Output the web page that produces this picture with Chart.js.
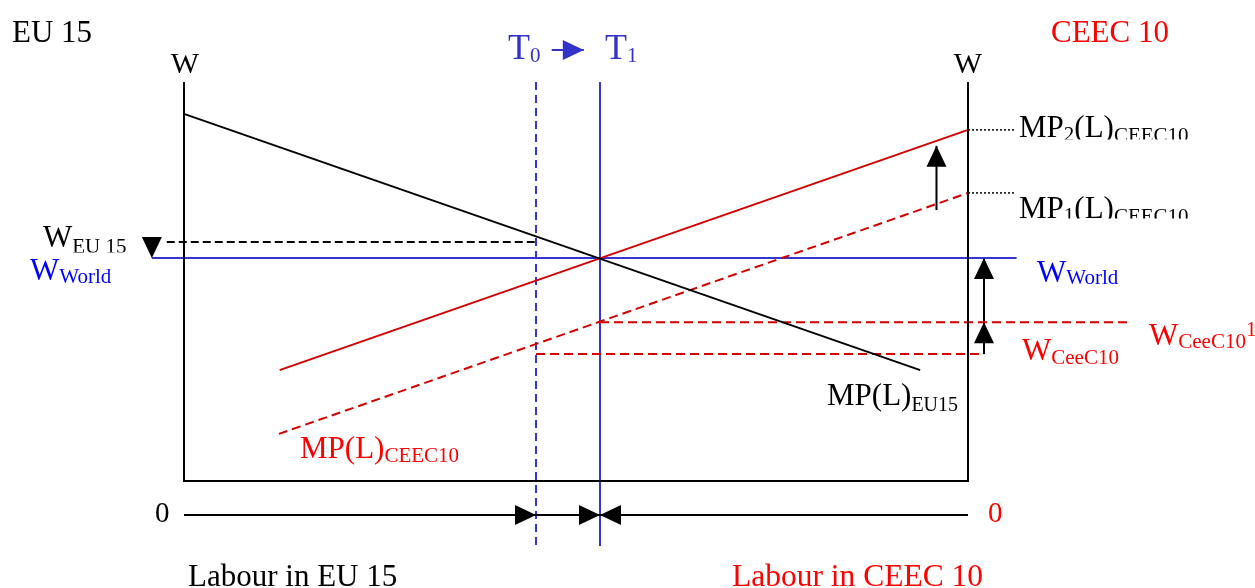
<!DOCTYPE html>
<html>
<head>
<meta charset="utf-8">
<script src="https://cdn.jsdelivr.net/npm/chart.js@4.4.1/dist/chart.umd.min.js"></script>
<style>
html,body{margin:0;padding:0;background:#fff;}
#wrap{width:1255px;height:588px;position:relative;}
</style>
</head>
<body>
<div id="wrap"><canvas id="c" width="1255" height="588"></canvas></div>
<script>
// ---- data (labour share 0..100 across the box, wage 0..100 up the box) ----
const mpEU15   = [{x:0, y:92.0}, {x:93.9, y:27.8}];     // MP(L) EU15
const mp2CEEC  = [{x:12.2, y:27.8}, {x:100, y:88.0}];   // MP2(L) CEEC10
const mp1CEEC  = [{x:12.1, y:11.8}, {x:100, y:72.2}];   // MP1(L) CEEC10
const wageLevels = {world:55.9, eu15:59.9, ceec1:39.8, ceec0:31.8};
const labourSplit = {t0:44.9, t1:53.06};
const wageSpan = {worldFrom:-4.1, worldTo:106.2, eu15From:-2.2, ceec1To:120.7, ceec0To:102.04};
const vertSpan = [100, -16.3];      // T0/T1 vertical extent
const labourAxisY = -8.5;
const mpShiftArrow = [{x:95.98, y:67.9}, {x:95.98, y:84.0}];
const wageArrowX = 102.04;
const tArrow = [{x:46.9, y:108.0}, {x:51.0, y:108.0}];
const leaders = [88.0, 72.2];
const leaderTo = 106.0;

const RED_L = '#d40000', RED_T = '#ff0000', BLUE_L = '#3535cf', BLUE_T = '#0000ff', BLUE_T2 = '#3333cc';

function seg(data, color, dash, width){
  return {data, borderColor:color, borderWidth:width||2, borderDash:dash||[], showLine:true,
          pointRadius:0, pointHoverRadius:0, fill:false, clip:false, tension:0};
}
const W = wageLevels, T = labourSplit, S = wageSpan;
const datasets = [
  seg([{x:0,y:100},{x:0,y:0},{x:100,y:0},{x:100,y:100}], '#000'),
  seg([{x:0,y:labourAxisY},{x:100,y:labourAxisY}], '#000'),
  seg(mpEU15, '#000'),
  seg(mp2CEEC, RED_L),
  seg(mp1CEEC, RED_L, [9,5]),
  seg([{x:S.worldFrom,y:W.world},{x:S.worldTo,y:W.world}], BLUE_L),
  seg([{x:S.eu15From,y:W.eu15},{x:T.t0,y:W.eu15}], '#000', [8,4]),
  seg([{x:T.t1,y:W.ceec1},{x:S.ceec1To,y:W.ceec1}], RED_L, [9,5]),
  seg([{x:T.t0,y:W.ceec0},{x:S.ceec0To,y:W.ceec0}], RED_L, [9,5]),
  seg([{x:T.t0,y:vertSpan[0]},{x:T.t0,y:vertSpan[1]}], BLUE_L, [8,5]),
  seg([{x:T.t1,y:vertSpan[0]},{x:T.t1,y:vertSpan[1]}], BLUE_L),
  seg([{x:100,y:leaders[0]},{x:leaderTo,y:leaders[0]}], '#000', [2,2], 1.5),
  seg([{x:100,y:leaders[1]},{x:leaderTo,y:leaders[1]}], '#000', [2,2], 1.5),
  seg(mpShiftArrow, '#000'),
  seg([{x:wageArrowX,y:W.ceec0},{x:wageArrowX,y:W.world}], '#000'),
  seg(tArrow, BLUE_T2)
];

// arrow heads: tip position + direction
const heads = [
  {x:T.t0, y:labourAxisY, dir:'right', c:'#000'},
  {x:T.t1, y:labourAxisY, dir:'right', c:'#000'},
  {x:T.t1, y:labourAxisY, dir:'left', c:'#000'},
  {x:mpShiftArrow[1].x, y:mpShiftArrow[1].y, dir:'up', c:'#000'},
  {x:wageArrowX, y:W.world, dir:'up', c:'#000'},
  {x:wageArrowX, y:W.ceec1, dir:'up', c:'#000'},
  {x:S.worldFrom, y:W.world, dir:'down', c:'#000'},
  {x:tArrow[1].x, y:tArrow[1].y, dir:'right', c:BLUE_T2}
];

const FONT = '"Liberation Serif","Times New Roman",serif';
// rich text labels: [text, size, dy]
const labels = [
  {x:12, y:42, c:'#000', s:[['EU 15',31]]},
  {cx:185, y:73, c:'#000', s:[['W',30]]},
  {cx:968, y:73, c:'#000', s:[['W',30]]},
  {x:1051, y:42, c:RED_T, s:[['CEEC 10',31]]},
  {x:508, y:59, c:BLUE_T2, s:[['T',36],['0',21,3]]},
  {x:605, y:59, c:BLUE_T2, s:[['T',36],['1',21,3]]},
  {x:1019, y:137, c:'#000', clip:139.5, s:[['MP',31],['2',21,4],['(L)',31],['CEEC10',21,5]]},
  {x:1019, y:218, c:'#000', clip:218.6, s:[['MP',31],['1',21,4],['(L)',31],['CEEC10',21,5]]},
  {x:43, y:247, c:'#000', clip:252.5, s:[['W',31],['EU 15',21,6]]},
  {x:30, y:280, c:BLUE_T, s:[['W',31],['World',21,3]]},
  {x:1037, y:282, c:BLUE_T, s:[['W',31],['World',21,2]]},
  {x:1149, y:345, c:RED_T, s:[['W',31],['CeeC10',21,3],['1',21,-9]]},
  {x:1022, y:360, c:RED_T, s:[['W',31],['CeeC10',21,4]]},
  {x:827, y:405, c:'#000', s:[['MP(L)',31],['EU15',20,6]]},
  {x:300, y:458, c:RED_T, s:[['MP(L)',31],['CEEC10',21,4]]},
  {x:155, y:522, c:'#000', s:[['0',29]]},
  {x:988, y:522, c:RED_T, s:[['0',29]]},
  {x:188, y:586, c:'#000', s:[['Labour in EU 15',31]]},
  {x:732, y:586, c:RED_T, s:[['Labour in CEEC 10',31.5]]}
];

const deco = {
  id:'deco',
  afterDatasetsDraw(chart){
    const ctx = chart.ctx, xs = chart.scales.x, ys = chart.scales.y;
    const L = 21, H = 10;
    heads.forEach(h=>{
      const px = xs.getPixelForValue(h.x), py = ys.getPixelForValue(h.y);
      ctx.save(); ctx.fillStyle = h.c; ctx.beginPath();
      if(h.dir==='right'){ ctx.moveTo(px,py); ctx.lineTo(px-L,py-H); ctx.lineTo(px-L,py+H); }
      else if(h.dir==='left'){ ctx.moveTo(px,py); ctx.lineTo(px+L,py-H); ctx.lineTo(px+L,py+H); }
      else if(h.dir==='up'){ ctx.moveTo(px,py); ctx.lineTo(px-H,py+L); ctx.lineTo(px+H,py+L); }
      else { ctx.moveTo(px,py); ctx.lineTo(px-H,py-L); ctx.lineTo(px+H,py-L); }
      ctx.closePath(); ctx.fill(); ctx.restore();
    });
  },
  afterDraw(chart){
    const ctx = chart.ctx;
    labels.forEach(lb=>{
      ctx.save();
      if(lb.clip){ ctx.beginPath(); ctx.rect(0,0,1255,lb.clip); ctx.clip(); }
      ctx.fillStyle = lb.c; ctx.textBaseline = 'alphabetic'; ctx.textAlign = 'left';
      let total = 0;
      lb.s.forEach(p=>{ ctx.font = p[1]+'px '+FONT; total += ctx.measureText(p[0]).width; });
      let x = lb.cx!==undefined ? lb.cx - total/2 : lb.x;
      lb.s.forEach(p=>{
        ctx.font = p[1]+'px '+FONT;
        ctx.fillText(p[0], x, lb.y + (p[2]||0));
        x += ctx.measureText(p[0]).width;
      });
      ctx.restore();
    });
  }
};

new Chart(document.getElementById('c'), {
  type:'scatter',
  data:{datasets},
  options:{
    responsive:false, animation:false, devicePixelRatio:1,
    layout:{padding:{left:184, right:287, top:82, bottom:107}},
    plugins:{legend:{display:false}, tooltip:{enabled:false}},
    events:[],
    scales:{
      x:{type:'linear', min:0, max:100, display:false},
      y:{type:'linear', min:0, max:100, display:false}
    }
  },
  plugins:[deco]
});
</script>
</body>
</html>
